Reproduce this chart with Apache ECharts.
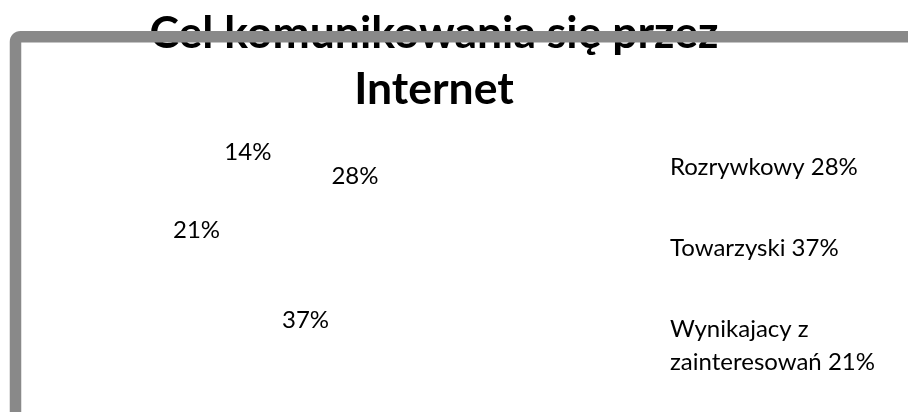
<!DOCTYPE html>
<html>
<head>
<meta charset="utf-8">
<script src="https://cdn.jsdelivr.net/npm/echarts@6/dist/echarts.min.js"></script>
<style>
html,body{margin:0;padding:0;background:#fff;}
#chart{width:908px;height:412px;}
</style>
</head>
<body>
<div id="chart"></div>
<script>
const titleText = 'Cel komunikowania się przez\nInternet';
const categories = ['Rozrywkowy', 'Towarzyski', 'Wynikajacy z zainteresowań', 'Inne'];
const values = [28, 37, 21, 14];
const legendItems = ['Rozrywkowy', 'Towarzyski', 'Wynikajacy z zainteresowań'];

const FONT = 'Lato';
const chart = echarts.init(document.getElementById('chart'), null, {renderer: 'canvas'});
const option = {
  animation: false,
  backgroundColor: '#ffffff',
  title: {
    text: titleText,
    left: 434,
    top: 6,
    padding: 0,
    textAlign: 'center',
    textStyle: {
      fontFamily: FONT,
      fontWeight: 'bold',
      fontSize: 44.5,
      lineHeight: 56,
      color: '#000000'
    }
  },
  legend: {
    orient: 'vertical',
    left: 665,
    top: 151,
    padding: 0,
    icon: 'none',
    itemWidth: 0,
    itemHeight: 1,
    itemGap: 48,
    data: legendItems,
    selectedMode: false,
    formatter: function (name) {
      const i = categories.indexOf(name);
      return name + ' ' + values[i] + '%';
    },
    textStyle: {
      fontFamily: FONT,
      fontSize: 24,
      lineHeight: 33,
      color: '#000000',
      width: 225,
      overflow: 'break'
    }
  },
  graphic: [{
    type: 'rect',
    z: 100,
    silent: true,
    shape: {x: 15.5, y: 36.7, width: 1000, height: 600, r: 5},
    style: {fill: 'none', stroke: '#898989', lineWidth: 11.5}
  }],
  series: [{
    type: 'pie',
    silent: true,
    center: [286, 233],
    radius: [0, 173],
    startAngle: 90,
    clockwise: true,
    data: categories.map((c, i) => ({name: c, value: values[i]})),
    itemStyle: {color: 'rgba(0,0,0,0)', borderWidth: 0},
    label: {
      show: true,
      position: 'inside',
      formatter: '{c}%',
      fontFamily: FONT,
      fontSize: 24,
      color: '#000000'
    },
    labelLine: {show: false},
    emphasis: {disabled: true}
  }]
};
chart.setOption(option);
</script>
</body>
</html>
